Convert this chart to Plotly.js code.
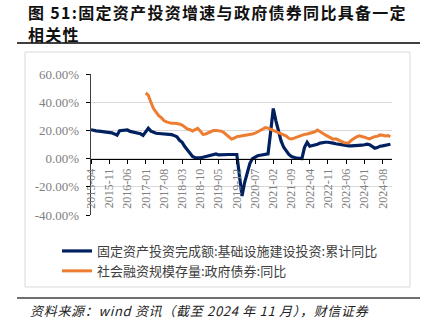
<!DOCTYPE html>
<html>
<head>
<meta charset="utf-8">
<script src="https://cdn.plot.ly/plotly-3.0.1.min.js"></script>
<style>
html,body{margin:0;padding:0;background:#fff;}
#chart{width:430px;height:333px;}
</style>
</head>
<body>
<div id="chart"></div>
<script>
// ---- data ----
const startYear = 2015, startMonth = 4;
const seriesNames = ["固定资产投资完成额:基础设施建设投资:累计同比", "社会融资规模存量:政府债券:同比"];
const infraYoY = [
  20.5, 19.8, 19.7, 19.5, 19.3, 19.2, 18.8, 18.5, 18.3,
  17.5, 16.6, 19.8, 19.9, 20.0, 20.3, 19.3, 19.0, 18.6, 18.3, 17.6, 16.5,
  19.0, 21.5, 19.5, 18.5, 18.0, 17.8, 17.6, 17.5, 17.4, 17.3, 17.0, 16.3,
  15.5, 13.0, 11.5, 8.5, 6.0, 3.8, 1.5, 0.6, 0.4, 0.5, 1.0, 1.5,
  1.8, 2.2, 2.8, 3.3, 2.6, 2.8, 2.9, 2.9, 2.9, 2.9, 2.9, 2.9,
  -12.0, -26.5, -17.0, -9.0, -3.5, 0.0, 1.2, 2.0, 2.4, 2.8, 3.3, 3.4,
  19.0, 35.5, 27.0, 19.0, 12.5, 8.0, 5.0, 3.0, 1.5, 0.8, 0.3, 0.2,
  0.0, 8.0, 11.5, 8.8, 9.2, 9.7, 10.2, 11.0, 11.4, 11.6, 11.6, 11.5,
  11.0, 10.5, 10.2, 9.8, 9.3, 9.1, 9.0, 9.0, 9.0, 9.0, 9.2, 9.5,
  9.8, 10.2, 9.8, 8.5, 7.4, 7.8, 8.8, 9.0, 9.2, 9.8, 10.2
];
const govBondYoY = [
  null, null, null, null, null, null, null, null, null,
  null, null, null, null, null, null, null, null, null, null, null, null,
  46.5, 45.0, 40.0, 35.5, 33.0, 30.5, 29.0, 27.0, 26.0, 25.3, 25.0, 25.0,
  25.0, 24.5, 23.8, 22.5, 21.0, 20.5, 19.5, 20.5, 21.5, 19.5, 17.2, 17.5,
  18.2, 19.3, 19.9, 19.9, 19.9, 19.5, 18.5, 17.0, 15.5, 13.8, 14.5, 15.6,
  15.8, 16.1, 16.3, 16.5, 16.8, 17.5, 18.0, 19.0, 20.3, 21.2, 22.0, 21.6,
  20.8, 20.3, 19.3, 18.7, 18.0, 17.3, 16.0, 14.3, 14.0, 14.5, 15.2, 16.0,
  16.5, 17.2, 17.5, 18.0, 18.4, 19.0, 20.3, 19.0, 17.5, 16.8, 15.8, 14.8,
  13.8, 14.0, 13.0, 12.0, 11.5, 11.0, 11.2, 13.0, 14.5, 15.5, 16.1, 15.8,
  15.2, 14.5, 14.0, 14.8, 15.6, 15.8, 16.8, 16.5, 16.1, 16.3, 15.6
];
const xTickLabels = ["2015-04","2015-11","2016-06","2017-01","2017-08","2018-03","2018-10","2019-05",
  "2019-12","2020-07","2021-02","2021-09","2022-04","2022-11","2023-06","2024-01","2024-08"];
const yTickVals = [-40, -20, 0, 20, 40, 60];
const yTickText = ["-40.00%", "-20.00%", "0.00%", "20.00%", "40.00%", "60.00%"];
const titleLine1 = "图 51:固定资产投资增速与政府债券同比具备一定";
const titleLine2 = "相关性";
const sourceText = "资料来源：wind 资讯（截至 2024 年 11 月），财信证券";

// month categories
const months = [];
for (let i = 0; i < infraYoY.length; i++) {
  const m0 = startMonth - 1 + i;
  const y = startYear + Math.floor(m0 / 12);
  const m = (m0 % 12) + 1;
  months.push(y + "-" + (m < 10 ? "0" + m : m));
}

// ---- layout geometry (pixels) ----
const L = 91, R = 38, T = 74, B = 118;
const W = 430 - L - R, H = 333 - T - B;
const px = x => (x - L) / W;
const py = y => (333 - B - y) / H;

const cjk = '"Noto Sans CJK SC", "Noto Sans", sans-serif';
const serif = '"Liberation Serif", "DejaVu Serif", serif';

const traces = [
  {x: months, y: infraYoY, name: seriesNames[0], type: 'scatter', mode: 'lines',
   line: {color: '#002060', width: 3.2}, legendgroup: 'a'},
  {x: months, y: govBondYoY, name: seriesNames[1], type: 'scatter', mode: 'lines',
   line: {color: '#ED7D31', width: 3}, legendgroup: 'a', connectgaps: false}
];

const layout = {
  width: 430, height: 333,
  margin: {l: L, r: R, t: T, b: B, pad: 0},
  paper_bgcolor: '#fff', plot_bgcolor: 'rgba(0,0,0,0)',
  showlegend: true,
  legend: {x: px(57), xanchor: 'left', y: py(236), yanchor: 'top', orientation: 'v',
    font: {family: cjk, size: 13, color: '#404040'}, bgcolor: 'rgba(0,0,0,0)',
    tracegroupgap: 0, traceorder: 'normal'},
  xaxis: {type: 'category', range: [0, 115.6], anchor: 'free', position: 0.4,
    tickmode: 'array', tickvals: xTickLabels, ticktext: xTickLabels, tickangle: -90,
    ticks: 'outside', ticklen: 4, tickcolor: '#000', tickwidth: 1,
    showline: true, linecolor: '#000', linewidth: 1.3, showgrid: false, zeroline: false,
    tickfont: {family: serif, size: 12, color: '#808080'}, automargin: false},
  yaxis: {range: [-40, 60], tickmode: 'array', tickvals: yTickVals, ticktext: yTickText,
    ticks: 'outside', ticklen: 4, tickcolor: '#000', ticklabelstandoff: 4,
    showline: true, linecolor: '#404040', linewidth: 1.3,
    showgrid: true, gridcolor: '#d9d9d9', gridwidth: 1, zeroline: false,
    tickfont: {family: serif, size: 13, color: '#808080'}, automargin: false},
  shapes: [
    {type: 'line', xref: 'paper', yref: 'paper', x0: px(17), x1: px(420), y0: py(43), y1: py(43),
     line: {color: '#404040', width: 2}},
    {type: 'rect', xref: 'paper', yref: 'paper', x0: px(25), x1: px(410), y0: py(287), y1: py(52),
     line: {color: '#d9d9d9', width: 1}, layer: 'below'},
    {type: 'line', xref: 'paper', yref: 'paper', x0: px(17), x1: px(420), y0: py(298), y1: py(298),
     line: {color: '#404040', width: 1.5}}
  ],
  annotations: [
    {text: titleLine1, xref: 'paper', yref: 'paper', x: px(26), y: py(12), xanchor: 'left', yanchor: 'middle',
     align: 'left', showarrow: false, font: {family: cjk, size: 16, color: '#111', weight: 'bold'}},
    {text: titleLine2, xref: 'paper', yref: 'paper', x: px(26), y: py(34), xanchor: 'left', yanchor: 'middle',
     align: 'left', showarrow: false, font: {family: cjk, size: 16, color: '#111', weight: 'bold'}},
    {text: sourceText, xref: 'paper', yref: 'paper', x: px(28), y: py(310), xanchor: 'left', yanchor: 'middle',
     align: 'left', showarrow: false, font: {family: cjk, size: 13, color: '#222', style: 'italic'}}
  ]
};

const letterSpacing = ['1.3px', '1.3px', '0.7px'];
Plotly.newPlot('chart', traces, layout, {staticPlot: true, displayModeBar: false}).then(() => {
  document.querySelectorAll('#chart .annotation-text').forEach((t, i) => {
    if (letterSpacing[i]) t.style.letterSpacing = letterSpacing[i];
  });
});
</script>
</body>
</html>
